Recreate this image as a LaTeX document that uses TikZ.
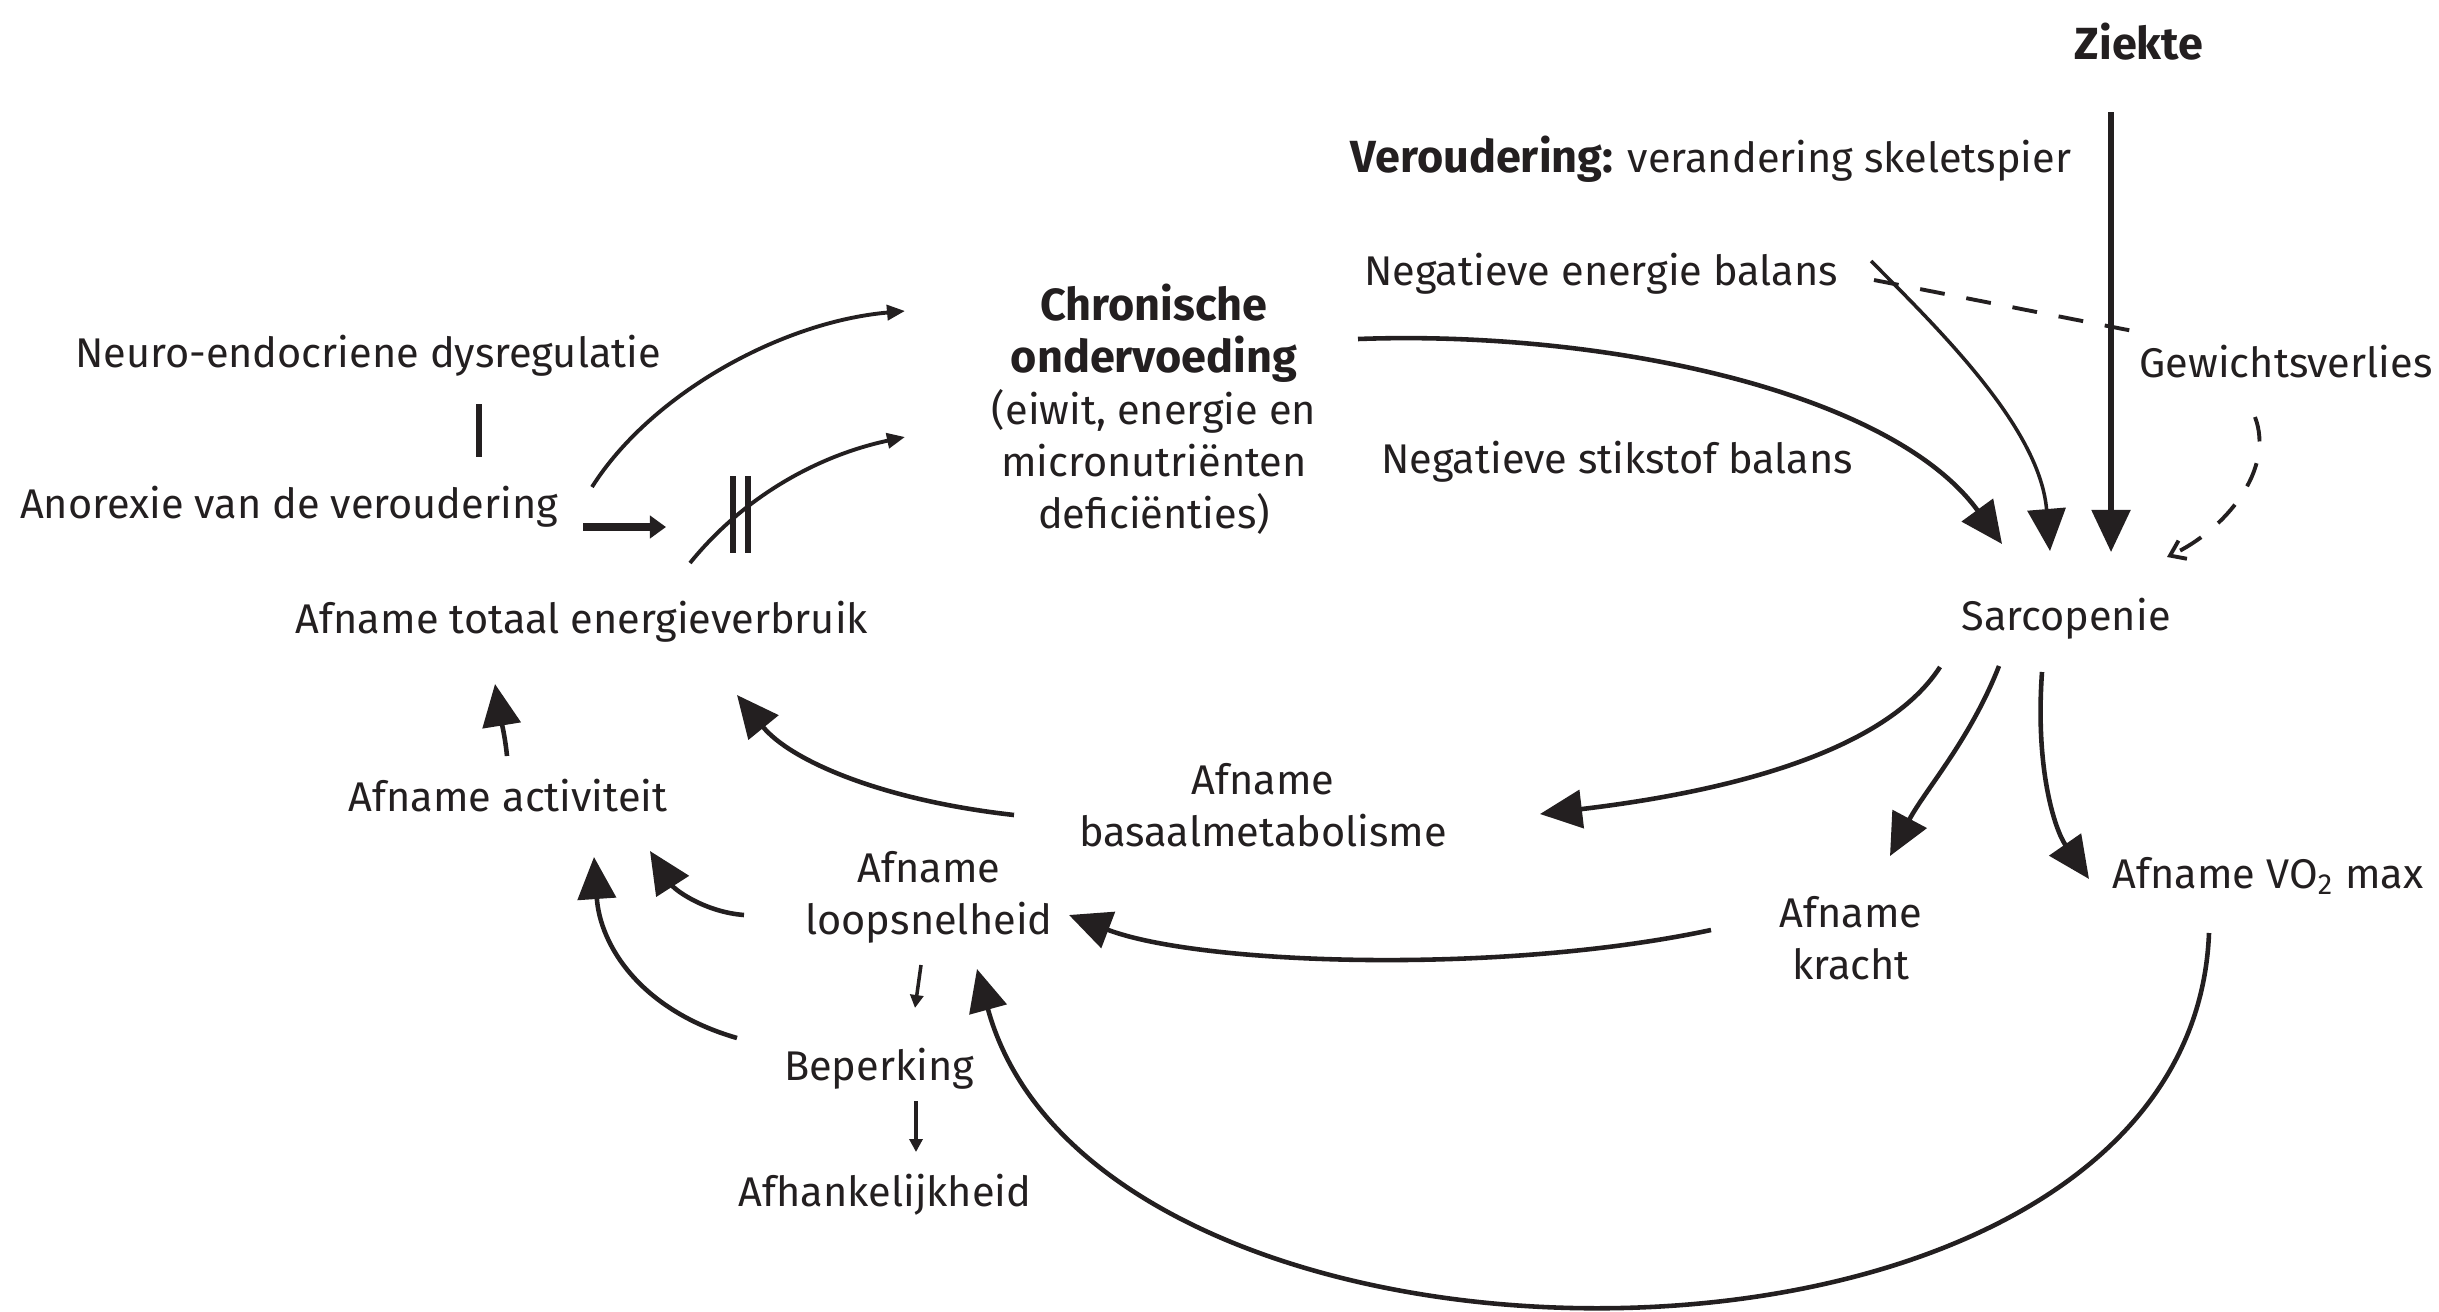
\documentclass[tikz,border=0pt]{standalone}
\usepackage{fontspec}
\setmainfont{Fira Sans}
\usetikzlibrary{arrows.meta}
\definecolor{ink}{HTML}{231F20}
\newcommand{\bigbold}[1]{{\fontsize{12.8}{14.8}\selectfont\bfseries #1}}
\begin{document}
\begin{tikzpicture}[x=0.01cm,y=-0.01cm,
  lbl/.style={inner sep=0pt, font=\fontsize{11.8}{14.8}\selectfont, text=ink, align=center},
  bigarr/.style={draw=ink, line width=1.3pt, -{Triangle[length=0.42cm,width=0.38cm]}},
  medarr/.style={draw=ink, line width=1.1pt, -{Triangle[length=0.18cm,width=0.15cm]}},
  smallarr/.style={draw=ink, line width=1.0pt, -{Triangle[length=0.13cm,width=0.13cm]}},
  thickarr/.style={draw=ink, line width=2.0pt, -{Triangle[length=0.16cm,width=0.22cm]}},
  dashline/.style={draw=ink, line width=1.1pt, dash pattern=on 0.25cm off 0.22cm},
  barline/.style={draw=ink, line width=1.8pt}]
\useasboundingbox (0,0) rectangle (2439,1312);
\fill[white] (0,0) rectangle (2439,1312);

% nodes
\node[lbl] (ziekte) at (2139,42) {\bigbold{Ziekte}};
\node[lbl] (verou) at (1711,159) {\bigbold{Veroudering:} verandering skeletspier};
\node[lbl] (neb) at (1601,274) {Negatieve energie balans};
\node[lbl] (gew) at (2286,362) {Gewichtsverlies};
\node[lbl] (nsb) at (1617,462) {Negatieve stikstof balans};
\node[lbl] (chron) at (1154,409) {\bigbold{Chronische}\\\bigbold{ondervoeding}\\(eiwit, energie en\\micronutriënten\\deficiënties)};
\node[lbl] (neuro) at (368,356) {Neuro-endocriene dysregulatie};
\node[lbl] (anor) at (289,507) {Anorexie van de veroudering};
\node[lbl] (totaal) at (582,622) {Afname totaal energieverbruik};
\node[lbl] (activ) at (508,796) {Afname activiteit};
\node[lbl] (basaal) at (1263,805) {Afname\\basaalmetabolisme};
\node[lbl] (loop) at (929,897) {Afname\\loopsnelheid};
\node[lbl] (beperk) at (879,1069) {Beperking};
\node[lbl] (afhank) at (885,1195) {Afhankelijkheid};
\node[lbl] (sarc) at (2066,619) {Sarcopenie};
\node[lbl] (kracht) at (1851,938) {Afname\\kracht};
\node[lbl] (vo2) at (2268,876) {Afname VO\textsubscript{2} max};

% connector end points
\coordinate (ziekte-out) at (2111,112);
\coordinate (sarc-in1) at (2111,552);
\coordinate (neb-out) at (1871,261);
\coordinate (sarc-in2) at (2050,551);
\coordinate (neb-dash) at (1874,280);
\coordinate (gew-in) at (2133,331);
\coordinate (gew-out) at (2255,417);
\coordinate (sarc-in3) at (2167,557);
\coordinate (chron-out) at (1358,339);
\coordinate (sarc-in4) at (2002,544);
\coordinate (anor-out1) at (592,487);
\coordinate (chron-in1) at (905,311);
\coordinate (anor-out2) at (583,527);
\coordinate (anor-head) at (666,527);
\coordinate (blk-start) at (690,563);
\coordinate (chron-in2) at (905,437);
\coordinate (neuro-bar1) at (479,404);
\coordinate (neuro-bar2) at (479,457);
\coordinate (activ-out) at (507,756);
\coordinate (totaal-in1) at (495,684);
\coordinate (basaal-out) at (1014,815);
\coordinate (totaal-in2) at (737,695);
\coordinate (sarc-out1) at (1940,667);
\coordinate (basaal-in) at (1540,814);
\coordinate (sarc-out2) at (1999,666);
\coordinate (kracht-in) at (1890,856);
\coordinate (sarc-out3) at (2042,672);
\coordinate (vo2-in) at (2089,879);
\coordinate (kracht-out) at (1711,930);
\coordinate (loop-in1) at (1069,915);
\coordinate (vo2-out) at (2209,933);
\coordinate (loop-in2) at (977,969);
\coordinate (loop-out1) at (744,915);
\coordinate (activ-in1) at (650,851);
\coordinate (beperk-out1) at (737,1038);
\coordinate (activ-in2) at (594,857);
\coordinate (loop-out2) at (921,965);
\coordinate (beperk-in) at (915,1008);
\coordinate (beperk-out2) at (916,1101);
\coordinate (afhank-in) at (916,1152);

% connectors
\draw[bigarr, line width=1.5pt] (ziekte-out) -- (sarc-in1);
\draw[bigarr, line width=1.0pt] (neb-out) .. controls (1945,335) and (2040,430) .. (sarc-in2);
\draw[dashline] (neb-dash) -- (gew-in);
\draw[dashline, -{Straight Barb[length=0.14cm,width=0.2cm]}] (gew-out) .. controls (2275,470) and (2225,530) .. (sarc-in3);
\draw[bigarr] (chron-out) .. controls (1600,330) and (1890,390) .. (sarc-in4);
\draw[medarr] (anor-out1) .. controls (650,395) and (780,322) .. (chron-in1);
\draw[thickarr] (anor-out2) -- (anor-head);
\draw[medarr] (blk-start) .. controls (745,495) and (820,455) .. (chron-in2);
\draw[barline] (733,476) -- (733,553);
\draw[barline] (748,476) -- (748,553);
\draw[barline] (neuro-bar1) -- (neuro-bar2);
\draw[bigarr] (activ-out) .. controls (505,735) and (500,715) .. (totaal-in1);
\draw[bigarr] (basaal-out) .. controls (880,800) and (790,760) .. (totaal-in2);
\draw[bigarr] (sarc-out1) .. controls (1880,760) and (1700,795) .. (basaal-in);
\draw[bigarr] (sarc-out2) .. controls (1970,740) and (1925,790) .. (kracht-in);
\draw[bigarr] (sarc-out3) .. controls (2035,770) and (2055,830) .. (vo2-in);
\draw[bigarr] (kracht-out) .. controls (1500,975) and (1200,965) .. (loop-in1);
\draw[bigarr] (vo2-out) .. controls (2190,1420) and (1100,1420) .. (loop-in2);
\draw[bigarr] (loop-out1) .. controls (705,912) and (675,890) .. (activ-in1);
\draw[bigarr] (beperk-out1) .. controls (640,1010) and (600,945) .. (activ-in2);
\draw[smallarr] (loop-out2) -- (beperk-in);
\draw[smallarr] (beperk-out2) -- (afhank-in);
\end{tikzpicture}
\end{document}
